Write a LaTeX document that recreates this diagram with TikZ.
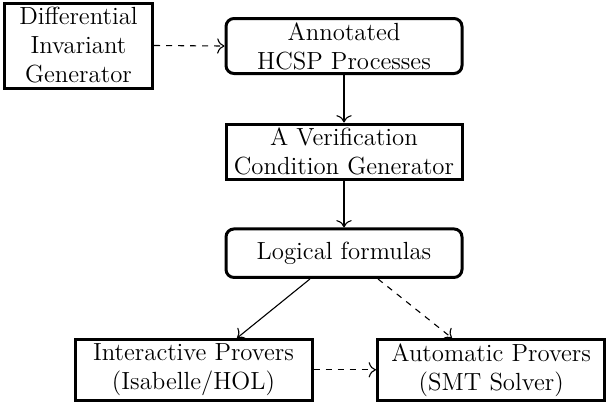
\documentclass[tikz,border=0pt]{standalone}
\usetikzlibrary{calc,arrows.meta}
\begin{document}
\begin{tikzpicture}[x=1pt,y=1pt,
  box/.style={draw, line width=1.5pt, align=center,
    font=\fontsize{12.4}{14.5}\selectfont, inner sep=0pt},
  roundbox/.style={box, rounded corners=4pt},
  link/.style={-{To[scale=1.3]}, line width=0.55pt},
  dlink/.style={link, dashed}]
\useasboundingbox (0,0) rectangle (304,-202);

% tool boxes
\node[box, minimum width=74pt, minimum height=42.5pt] (dig) at (39.25,-22.75)
  {Differential\\Invariant\\Generator};
\node[roundbox, minimum width=118pt, minimum height=27.5pt] (ann) at (172,-23)
  {Annotated\\HCSP Processes};
\node[box, minimum width=118pt, minimum height=27.5pt] (vcg) at (172,-75.75)
  {A Verification\\Condition Generator};
\node[roundbox, minimum width=118pt, minimum height=24.25pt] (log) at (172,-126.6)
  {Logical formulas};
\node[box, minimum width=118.5pt, minimum height=30.25pt] (itp) at (96.75,-184.9)
  {Interactive Provers\\(Isabelle/HOL)};
\node[box, minimum width=113.75pt, minimum height=30.25pt] (atp) at (245.6,-184.9)
  {Automatic Provers\\(SMT Solver)};

% flow between the boxes
\draw[dlink] (dig.east) -- (ann.west);
\draw[link] (ann.south) -- (vcg.north);
\draw[link] (vcg.south) -- (log.north);
\draw[link] ($(log.south)+(-17,0)$) -- ($(itp.north)+(21.75,0)$);
\draw[dlink] ($(log.south)+(17,0)$) -- ($(atp.north)+(-19.6,0)$);
\draw[dlink] (itp.east) -- (atp.west);
\end{tikzpicture}
\end{document}
